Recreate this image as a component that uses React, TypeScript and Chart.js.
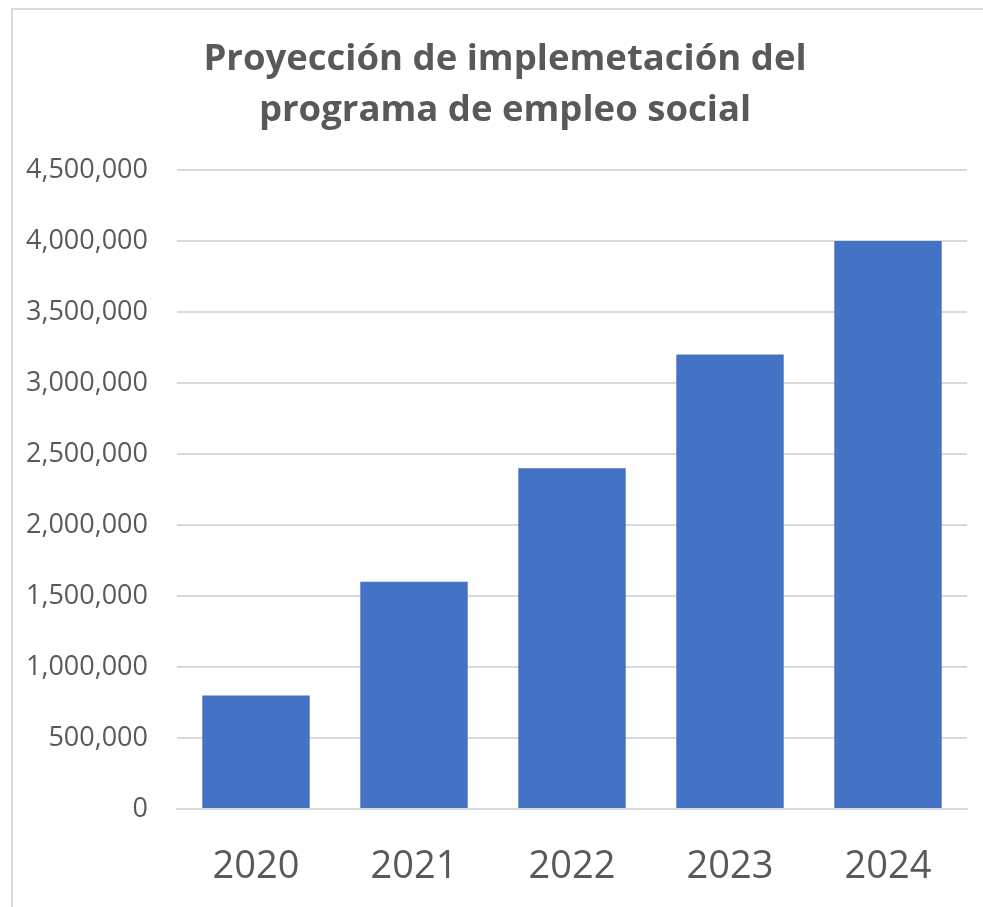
import React, { useEffect, useRef } from "react";
import { Chart, registerables } from "chart.js";

Chart.register(...registerables);

const titleLines = ["Proyección de implemetación del", "programa de empleo social"];
const years = ["2020", "2021", "2022", "2023", "2024"];
const beneficiaries = [800000, 1600000, 2400000, 3200000, 4000000];
const yMax = 4500000;
const yStep = 500000;

const TEXT = "#595959";
const GRID = "#d9d9d9";
const BAR = "#4472C4";
const FONT = "'Open Sans', 'Noto Sans', sans-serif";

// Two-line heading, centred over the chart block and drawn on the canvas.
const headingPlugin = {
  id: "heading",
  afterDraw(chart: any) {
    const ctx = chart.ctx;
    ctx.save();
    ctx.fillStyle = TEXT;
    ctx.font = `bold 36.5px ${FONT}`;
    ctx.textAlign = "center";
    ctx.textBaseline = "alphabetic";
    const cx = 505;
    titleLines.forEach((line, i) => {
      ctx.fillText(line, cx, 70 + i * 51);
    });
    ctx.restore();
  },
};

export default function App() {
  const canvasRef = useRef<HTMLCanvasElement | null>(null);

  useEffect(() => {
    if (!canvasRef.current) return;
    const chart = new Chart(canvasRef.current, {
      type: "bar",
      data: {
        labels: years,
        datasets: [
          {
            data: beneficiaries,
            backgroundColor: BAR,
            borderWidth: 0,
            barPercentage: 0.68,
            categoryPercentage: 1,
          },
        ],
      },
      options: {
        animation: false,
        responsive: false,
        maintainAspectRatio: false,
        layout: { padding: { left: 0, right: 16, top: 170, bottom: 0 } },
        plugins: {
          legend: { display: false },
          tooltip: { enabled: false },
          title: { display: false },
        },
        scales: {
          x: {
            grid: { display: false, drawTicks: false },
            border: { display: true, color: GRID, width: 2 },
            ticks: {
              color: TEXT,
              font: { family: FONT, size: 38 },
              padding: 35,
            },
            afterFit: (scale: any) => {
              scale.height = 98;
            },
          },
          y: {
            min: 0,
            max: yMax,
            grid: { color: GRID, lineWidth: 2, drawTicks: false },
            border: { display: false },
            ticks: {
              stepSize: yStep,
              color: TEXT,
              font: { family: FONT, size: 27 },
              padding: 29,
              callback: (v: any) => Number(v).toLocaleString("en-US"),
            },
            afterFit: (scale: any) => {
              scale.width = 177;
            },
          },
        },
      },
      plugins: [headingPlugin],
    });
    return () => chart.destroy();
  }, []);

  return (
    <div
      style={{
        position: "fixed",
        left: 0,
        top: 0,
        width: 983,
        height: 907,
        overflow: "hidden",
        background: "#fff",
      }}
    >
      <div
        style={{
          position: "absolute",
          left: 11,
          top: 8,
          width: 1200,
          height: 1200,
          borderTop: `2px solid ${GRID}`,
          borderLeft: `2px solid ${GRID}`,
        }}
      />
      <canvas
        ref={canvasRef}
        width={983}
        height={907}
        style={{ position: "absolute", left: 0, top: 0 }}
      />
    </div>
  );
}
